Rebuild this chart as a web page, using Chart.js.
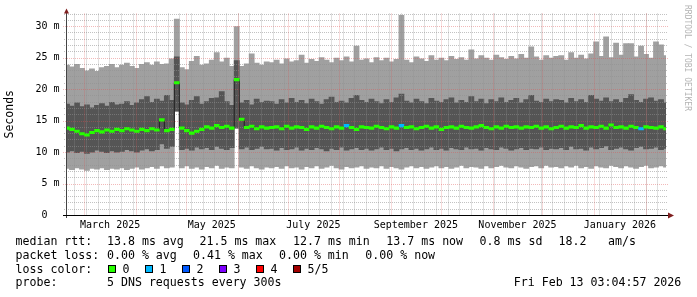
<!DOCTYPE html>
<html><head><meta charset="utf-8">
<script src="https://cdn.jsdelivr.net/npm/chart.js@4.4.1/dist/chart.umd.min.js"></script>
<style>html,body{margin:0;padding:0;background:#fff}canvas{display:block}</style>
</head><body>
<canvas id="c" width="697" height="297"></canvas>
<script>
// ---- data (ms), one value per ~3-day column ----
const lightTop = [23.8,23.5,23.9,23.3,22.9,23.2,22.8,23.4,23.6,23.9,23.4,23.8,24.1,23.6,23.3,23.9,24.2,23.8,24.3,23.9,24.0,24.8,
  31.1,
  23.4,23.1,24.4,25.2,23.8,24.0,24.6,25.8,24.3,24.9,23.6,
  29.9,
  23.6,24.0,25.6,24.1,23.8,24.3,
  24.2,24.6,24.0,24.8,24.3,24.5,25.4,24.1,24.7,24.4,25.0,24.6,24.2,24.9,24.5,25.1,24.3,26.8,24.6,24.8,24.2,25.0,24.5,24.9,24.3,24.7,31.7,24.6,24.2,25.1,24.8,24.4,25.3,24.6,
  24.9,24.5,25.2,24.7,25.0,24.6,26.2,24.8,25.3,24.9,24.6,25.4,25.0,24.7,25.2,24.8,25.5,24.9,26.7,25.1,24.6,25.3,24.9,25.2,
  25.3,24.6,25.8,24.9,25.4,24.8,25.6,27.5,25.2,28.3,25.0,27.3,25.4,27.2,27.2,25.1,26.8,25.5,24.9,27.5,27.0,25.3];
const darkTop = [17.6,17.3,17.8,17.2,17.5,17.0,17.4,17.7,17.3,17.9,17.5,17.6,18.0,17.4,17.8,18.3,18.8,17.9,18.4,18.1,19.0,18.2,
  25.1,
  17.8,17.5,18.2,18.8,17.6,18.0,18.5,18.6,19.6,18.0,17.4,
  24.5,
  17.8,18.2,17.5,18.4,17.9,18.1,
  18.0,17.6,18.3,17.8,18.5,17.9,18.2,17.7,18.4,18.0,17.6,18.3,18.7,17.9,18.1,17.8,18.5,19.0,18.2,17.9,18.4,18.0,17.7,18.3,17.9,18.6,19.2,18.1,17.8,18.4,18.0,17.7,18.5,18.1,
  17.9,18.3,18.6,17.8,18.2,17.9,18.8,18.0,18.4,17.7,18.3,18.0,18.6,17.9,18.2,18.5,17.8,18.3,19.0,18.1,17.9,18.4,18.0,18.3,
  18.2,17.8,18.5,18.0,18.3,17.9,19.0,18.4,18.1,18.6,18.0,18.3,17.9,18.5,19.1,18.2,17.9,18.4,18.6,18.1,18.3,17.8];
const darkBottom = [10.0,10.2,9.9,10.1,9.8,10.0,10.3,10.1,9.9,10.2,10.0,10.1,10.4,10.2,10.0,10.3,10.5,10.2,10.4,11.3,10.6,10.9,
  16.5,
  10.4,10.6,10.3,10.8,10.5,10.7,10.4,10.9,10.6,10.4,10.7,
  13.8,
  10.5,10.8,10.4,10.6,10.9,10.5,
  10.6,10.3,10.7,10.4,10.5,10.8,10.3,10.6,10.4,10.7,10.5,10.2,10.6,10.4,10.8,10.3,10.5,10.7,10.4,10.6,10.3,10.5,10.8,10.4,10.6,10.2,10.5,10.7,10.4,10.6,10.3,10.5,10.8,10.4,
  10.6,10.3,10.7,10.5,10.4,10.8,10.5,10.6,10.3,10.7,10.5,10.4,10.8,10.6,10.3,10.5,10.7,10.4,10.6,10.5,10.8,10.4,10.6,10.5,
  10.7,10.4,10.9,10.5,10.6,10.3,10.8,10.5,10.7,11.0,10.4,10.6,10.8,10.5,10.3,10.7,10.9,10.5,10.6,10.8,10.4,10.6];
const lightBottom = [7.4,7.2,7.5,7.3,7.1,7.4,7.3,7.5,7.2,7.4,7.3,7.5,7.2,7.4,7.6,7.3,7.5,7.7,7.4,7.8,7.5,7.6,
  16.5,
  7.5,7.8,7.4,7.6,7.3,7.7,7.5,7.9,7.4,7.6,7.5,
  13.8,
  7.6,7.4,7.8,7.5,7.3,7.6,
  7.5,7.7,7.4,7.8,7.5,7.6,7.3,7.7,7.5,7.8,
  7.4,7.6,7.9,7.5,7.3,7.7,7.5,7.6,7.8,7.4,
  7.6,7.5,7.8,7.4,7.7,7.5,7.3,7.6,7.8,7.5,
  7.7,7.4,7.6,7.8,7.5,7.7,7.4,7.6,7.9,7.5,
  7.7,7.6,7.4,7.8,7.5,7.7,7.9,7.6,7.5,7.8,
  7.6,7.4,7.7,7.8,7.5,7.9,7.6,7.7,7.5,7.8,
  7.6,7.9,7.5,7.7,7.4,7.8,7.6,7.5,7.9,7.7,
  7.5,7.8,7.6,7.4,7.7,7.9,7.5,7.6,7.8,7.6];
const medianRtt = [13.8,13.6,13.3,12.9,12.7,13.1,13.4,13.2,13.5,13.3,13.6,13.4,13.7,13.5,13.3,13.6,13.4,13.7,13.5,15.1,13.4,13.6,
  21.0,
  13.8,13.4,13.0,13.3,13.6,14.0,13.8,14.2,13.9,14.1,13.8,
  21.5,
  15.2,13.9,14.1,13.7,14.0,13.8,
  13.9,14.0,13.7,14.1,13.8,14.0,13.9,13.6,14.0,13.8,
  14.1,13.9,13.7,14.0,13.8,14.2,13.9,13.6,14.0,13.9,
  13.8,14.1,13.9,13.7,14.0,13.8,14.2,13.9,14.0,13.7,
  13.9,14.1,13.8,14.0,13.6,13.9,14.0,13.8,14.1,13.9,
  13.8,14.0,14.2,13.9,13.7,14.0,13.8,14.1,13.9,14.0,
  13.8,14.0,13.9,14.1,13.8,14.0,13.7,13.9,14.1,13.8,
  14.0,13.9,14.2,13.8,14.0,13.9,14.1,13.8,14.3,13.9,
  14.0,13.8,14.1,13.9,13.7,14.0,13.9,13.8,14.0,13.7];
const lossAt = [56, 67, 115];        // columns with packet loss
const lossPings = [1, 1, 1];         // lost pings in those columns
const yTicks = [0, 5, 10, 15, 20, 25, 30];
const xTickLabels = ['March 2025','May 2025','July 2025','September 2025','November 2025','January 2026'];
const xTickMonths = [[2025,2],[2025,4],[2025,6],[2025,8],[2025,10],[2026,0]];
const lossColors = ['#26ff00','#00b8ff','#0059ff','#7e00ff','#ff0000','#a10000'];
const lossLabels = ['0','1','2','3','4','5/5'];
const statsRtt = ['13.8 ms avg','21.5 ms max','12.7 ms min','13.7 ms now','0.8 ms sd','18.2','am/s'];
const statsLoss = ['0.00 % avg','0.41 % max','0.00 % min','0.00 % now'];
const probeText = '5 DNS requests every 300s';
const stampText = 'Fri Feb 13 03:04:57 2026';

// ---- time grid ----
const DAY = 86400000;
const tEnd = Date.UTC(2026,1,13,3,4,57);
const tStart = tEnd - 359.5*DAY;
const N = medianRtt.length;
const times = medianRtt.map((_, i) => tStart + i*(tEnd - tStart)/(N-1));
const FONT = '"DejaVu Sans Mono", monospace';

const boxColors = times.map((t, i) => {
  const k = lossAt.indexOf(i);
  return lossColors[k < 0 ? 0 : lossPings[k]];
});

const barCommon = {type:'bar', grouped:false, barPercentage:1, categoryPercentage:1, borderWidth:0, inflateAmount:0.4};

const decor = {
  id: 'decor',
  afterDatasetDraw(chart, args) {
    if (args.index !== 1) return;
    const ctx = chart.ctx, xs = chart.scales.x, ys = chart.scales.y, a = chart.chartArea;
    ctx.save();
    ctx.lineWidth = 1; ctx.setLineDash([1,1]);
    const minor = 'rgba(143,143,143,0.55)', major = 'rgba(222,80,80,0.4)';
    for (let v = 1; v <= 32; v++) {
      const py = Math.round(ys.getPixelForValue(v)) + 0.5;
      if (py < a.top) continue;
      const mj = v % 5 === 0;
      ctx.strokeStyle = mj ? major : minor;
      ctx.beginPath(); ctx.moveTo(mj ? a.left - 4 : a.left - 3, py); ctx.lineTo(a.right + 2, py); ctx.stroke();
    }
    for (let t = Date.UTC(2025,1,23); t < xs.max; t += 7*DAY) {
      if (t <= xs.min) continue;
      const px = Math.round(xs.getPixelForValue(t)) + 0.5;
      ctx.strokeStyle = minor;
      ctx.beginPath(); ctx.moveTo(px, a.top); ctx.lineTo(px, a.bottom); ctx.stroke();
    }
    for (let k = 0; k < 14; k++) {
      const t = Date.UTC(2025, 1 + k, 1);
      if (t <= xs.min || t >= xs.max) continue;
      const px = Math.round(xs.getPixelForValue(t)) + 0.5;
      ctx.strokeStyle = major;
      ctx.beginPath(); ctx.moveTo(px, a.top); ctx.lineTo(px, a.bottom); ctx.stroke();
    }
    ctx.restore();
  },
  afterDraw(chart) {
    const ctx = chart.ctx, a = chart.chartArea;
    ctx.save();
    ctx.setLineDash([]); ctx.lineWidth = 1;
    // axes
    ctx.strokeStyle = '#444';
    ctx.beginPath(); ctx.moveTo(a.left - 0.5, a.bottom + 3); ctx.lineTo(a.left - 0.5, a.top - 1); ctx.stroke();
    ctx.strokeStyle = '#000';
    ctx.beginPath(); ctx.moveTo(a.left - 4, a.bottom + 0.5); ctx.lineTo(a.right + 3, a.bottom + 0.5); ctx.stroke();
    ctx.fillStyle = '#7f1f1f';
    ctx.beginPath(); ctx.moveTo(a.left - 3, a.top); ctx.lineTo(a.left + 2, a.top); ctx.lineTo(a.left - 0.5, a.top - 5); ctx.closePath(); ctx.fill();
    ctx.beginPath(); ctx.moveTo(a.right + 2, a.bottom - 2.5); ctx.lineTo(a.right + 2, a.bottom + 3.5); ctx.lineTo(a.right + 8, a.bottom + 0.5); ctx.closePath(); ctx.fill();
    // watermark
    ctx.save();
    ctx.translate(685, 5); ctx.rotate(Math.PI/2);
    ctx.font = '8px ' + FONT; ctx.fillStyle = '#b4b4b4'; ctx.textBaseline = 'alphabetic';
    ctx.fillText('RRDTOOL / TOBI OETIKER', 0, 0);
    ctx.restore();
    // legend
    ctx.font = '11.6px ' + FONT; ctx.fillStyle = '#000'; ctx.textBaseline = 'alphabetic'; ctx.textAlign = 'left';
    const r1 = 245, r2 = 258.8, r3 = 272.6, r4 = 286.4;
    ctx.fillText('median rtt:', 15.5, r1);
    const x1 = [107, 199.5, 293, 386.3, 479.6, 558.6, 608];
    statsRtt.forEach((s, i) => ctx.fillText(s, x1[i], r1));
    ctx.fillText('packet loss:', 15.5, r2);
    const x2 = [107, 193, 279, 365.3];
    statsLoss.forEach((s, i) => ctx.fillText(s, x2[i], r2));
    ctx.fillText('loss color:', 15.5, r3);
    lossColors.forEach((c, i) => {
      const bx = 108 + 37*i;
      ctx.fillStyle = c; ctx.fillRect(bx, 265, 8, 8);
      ctx.strokeStyle = '#000'; ctx.strokeRect(bx + 0.5, 265.5, 7, 7);
      ctx.fillStyle = '#000'; ctx.fillText(lossLabels[i], bx + 14.5, r3);
    });
    ctx.fillText('probe:', 15.5, r4);
    ctx.fillText(probeText, 107, r4);
    ctx.textAlign = 'right';
    ctx.fillText(stampText, 681.3, r4);
    ctx.restore();
  }
};

new Chart(document.getElementById('c'), {
  type: 'bar',
  data: {
    datasets: [
      Object.assign({}, barCommon, {label:'min-max', order:4, backgroundColor:'#a0a0a0',
        data: times.map((t, i) => ({x:t, y:[lightBottom[i], lightTop[i]]}))}),
      Object.assign({}, barCommon, {label:'inner', order:3, backgroundColor:'#555555',
        data: times.map((t, i) => ({x:t, y:[darkBottom[i], darkTop[i]]}))}),
      {type:'line', label:'median', order:2, borderColor:'#202020', borderWidth:1, pointRadius:0,
        stepped:'middle', fill:false, data: times.map((t, i) => ({x:t, y:medianRtt[i]}))},
      Object.assign({}, barCommon, {label:'median box', order:1, backgroundColor:boxColors, inflateAmount:0.3,
        data: times.map((t, i) => ({x:t, y:[medianRtt[i] - 0.2, medianRtt[i] + 0.2]}))})
    ]
  },
  options: {
    responsive: false, animation: false, devicePixelRatio: 1,
    layout: {padding: {left:0, right:31, top:13.4, bottom:62}},
    plugins: {legend:{display:false}, tooltip:{enabled:false}},
    scales: {
      x: {type:'linear', min:tStart, max:tEnd, offset:false, stacked:false,
        grid:{display:false, drawTicks:false}, border:{display:false},
        afterBuildTicks: s => { s.ticks = xTickMonths.map(([y, m]) => ({value:(Date.UTC(y, m, 1) + Date.UTC(y, m + 1, 1))/2})); },
        afterFit: s => { s.height = 20; },
        ticks: {autoSkip:false, maxRotation:0, minRotation:0, padding:4, color:'#000', font:{family:FONT, size:10},
          callback: (v, i) => xTickLabels[i]}},
      y: {type:'linear', min:0, max:32, stacked:false,
        grid:{display:false, drawTicks:false}, border:{display:false},
        afterBuildTicks: s => { s.ticks = yTicks.map(v => ({value:v})); },
        afterFit: s => { s.width = 67; },
        ticks: {padding:7.5, color:'#000', font:{family:FONT, size:10},
          callback: v => v === 0 ? '0  ' : v + ' m'},
        title: {display:true, text:'Seconds', color:'#000', font:{family:FONT, size:11.5}, padding:{top:3, bottom:0}}}
    }
  },
  plugins: [decor]
});
</script>
</body></html>
